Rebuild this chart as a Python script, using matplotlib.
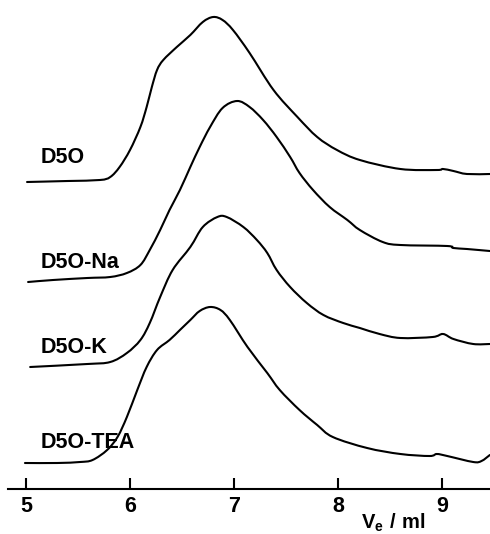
import matplotlib
matplotlib.use("Agg")
import matplotlib.pyplot as plt
import numpy as np
from matplotlib.path import Path
from matplotlib.patches import PathPatch

plt.rcParams['font.family'] = ['Liberation Sans', 'DejaVu Sans']
plt.rcParams['mathtext.fontset'] = 'custom'
plt.rcParams['mathtext.bf'] = 'Liberation Sans:bold'
plt.rcParams['mathtext.rm'] = 'Liberation Sans:bold'

# elution volume (ml) and detector signal (arb. units, stacked offsets included)
ve_d50 = [5.01, 5.40, 5.71, 5.81, 5.90, 6.00, 6.10, 6.16, 6.21, 6.26, 6.32, 6.45,
          6.58, 6.70, 6.80, 6.89, 6.99, 7.15, 7.38, 7.61, 7.80, 7.99, 8.21, 8.60,
          8.95, 9.01, 9.11, 9.24, 9.46]
sig_d50 = [307, 308, 309, 312, 322, 339, 362, 382, 402, 419, 429, 442,
           454, 467, 472, 469, 459, 436, 399, 372, 352, 339, 329, 320,
           319, 320, 318, 315, 315]

ve_na = [5.02, 5.26, 5.59, 5.81, 5.97, 6.10, 6.19, 6.29, 6.38, 6.48, 6.58, 6.67,
         6.77, 6.89, 7.03, 7.15, 7.28, 7.41, 7.54, 7.63, 7.76, 7.92, 8.09, 8.21,
         8.43, 8.60, 9.05, 9.11, 9.24, 9.46]
sig_na = [207, 209, 211, 212, 216, 224, 239, 259, 279, 299, 322, 342,
          362, 381, 388, 382, 369, 352, 332, 316, 299, 282, 269, 259,
          247, 244, 243, 241, 240, 238]

ve_k = [5.04, 5.59, 5.81, 5.97, 6.10, 6.19, 6.29, 6.41, 6.58, 6.70, 6.84, 6.93,
        7.09, 7.22, 7.32, 7.41, 7.54, 7.70, 7.86, 8.05, 8.21, 8.40, 8.60, 8.91,
        9.01, 9.11, 9.30, 9.46]
sig_k = [122, 125, 127, 136, 149, 166, 192, 219, 242, 262, 272, 272,
         262, 249, 236, 219, 202, 186, 174, 166, 161, 155, 151, 152,
         155, 150, 145, 145]

ve_tea = [4.99, 5.30, 5.52, 5.64, 5.78, 5.88, 5.97, 6.07, 6.16, 6.26, 6.38, 6.48,
          6.58, 6.67, 6.77, 6.87, 6.96, 7.13, 7.32, 7.44, 7.63, 7.80, 7.95, 8.28,
          8.60, 8.88, 8.95, 9.05, 9.30, 9.38, 9.46]
sig_tea = [26, 26, 27, 29, 39, 52, 72, 99, 122, 139, 149, 159,
           169, 178, 182, 179, 169, 142, 116, 99, 79, 64, 52, 41,
           35, 33, 35, 33, 27, 28, 34]

labels = ['D5O', 'D5O-Na', 'D5O-K', 'D5O-TEA']
label_y = [326, 221, 136, 41]
xticks = [5, 6, 7, 8, 9]

traces = [(ve_d50, sig_d50), (ve_na, sig_na), (ve_k, sig_k), (ve_tea, sig_tea)]


def smooth_path(xs, ys):
    # Catmull-Rom through the read points, drawn as cubic Bezier segments
    pts = np.column_stack([xs, ys]).astype(float)
    verts = [pts[0]]
    codes = [Path.MOVETO]
    n = len(pts)
    for i in range(n - 1):
        p0 = pts[max(i - 1, 0)]
        p1 = pts[i]
        p2 = pts[i + 1]
        p3 = pts[min(i + 2, n - 1)]
        verts += [p1 + (p2 - p0) / 6, p2 - (p3 - p1) / 6, p2]
        codes += [Path.CURVE4] * 3
    return Path(verts, codes)


fig = plt.figure(figsize=(4.9, 5.34), dpi=100)
ax = fig.add_axes([0, 0, 1, 1])
ax.set_xlim(4.75, 9.4615)
ax.set_ylim(-45, 489)

for xs, ys in traces:
    ax.add_patch(PathPatch(smooth_path(xs, ys), facecolor='none',
                           edgecolor='black', lw=1.5, capstyle='round'))

for lab, y in zip(labels, label_y):
    ax.text(5.144, y, lab, fontsize=15.5, fontweight='bold', ha='left', va='baseline')

for s in ['top', 'left', 'right']:
    ax.spines[s].set_visible(False)
ax.spines['bottom'].set_position(('data', 0))
ax.spines['bottom'].set_bounds(4.83, 9.46)
ax.spines['bottom'].set_linewidth(1.5)
ax.set_yticks([])
ax.set_xticks(xticks)
ax.set_xticklabels([str(t) for t in xticks], fontsize=15.5, fontweight='bold')
ax.tick_params(axis='x', direction='in', length=8, width=1.5, pad=5)
ax.patch.set_alpha(0)

ax.text(8.53, -40, r'$\mathbf{V_e\ /\ ml}$', fontsize=14.5, ha='center', va='baseline')

fig.savefig('out.png', dpi=100)
